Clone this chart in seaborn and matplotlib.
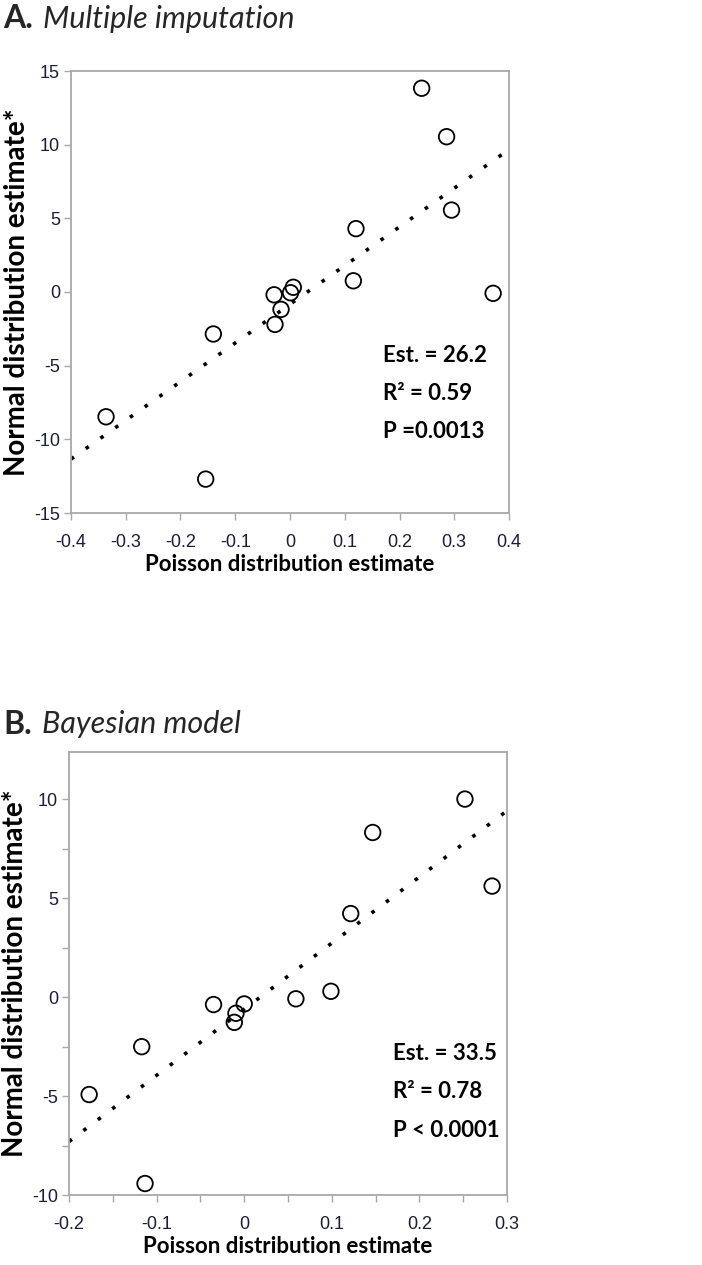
import numpy as np
import pandas as pd
import matplotlib
matplotlib.use("Agg")
import matplotlib.pyplot as plt
from matplotlib.ticker import MultipleLocator
import seaborn as sns

# ---- data ----
a_poisson = [0.2405, 0.286, 0.295, 0.1205, 0.1157, 0.371, -0.029, 0.006, 0.001,
             -0.0164, -0.0274, -0.14, -0.336, -0.154]
a_normal = [13.83, 10.54, 5.56, 4.30, 0.76, -0.09, -0.19, 0.32, -0.05,
            -1.18, -2.20, -2.85, -8.47, -12.70]

b_poisson = [0.252, 0.1467, 0.283, 0.1216, 0.099, 0.059, 0.000, -0.035,
             -0.0094, -0.0113, -0.117, -0.177, -0.1132]
b_normal = [10.02, 8.33, 5.62, 4.23, 0.30, -0.08, -0.34, -0.37,
            -0.81, -1.27, -2.50, -4.92, -9.42]

a_stats = ["Est. = 26.2", "R\u00b2 = 0.59", "P =0.0013"]
b_stats = ["Est. = 33.5", "R\u00b2 = 0.78", "P < 0.0001"]

a_xticks = [-0.4, -0.3, -0.2, -0.1, 0, 0.1, 0.2, 0.3, 0.4]
a_yticks = [-15, -10, -5, 0, 5, 10, 15]
b_xticks = [-0.2, -0.1, 0, 0.1, 0.2, 0.3]
b_yticks = [-10, -5, 0, 5, 10]

sns.set_theme(style="white")
plt.rcParams["font.family"] = ["Lato", "DejaVu Sans"]

W, H = 702, 1265
fig = plt.figure(figsize=(W / 100, H / 100), dpi=100)

TICKFONT = dict(family=["Liberation Sans", "DejaVu Sans"], size=13)
TICKCOL = "#1c1c3c"
SPINE = "#a8a8a8"


def fmt(v):
    return "0" if v == 0 else "%g" % v


def panel(rect, x, y, xlim, ylim, xticks, yticks, stats, stat_xy, minor=None):
    ax = fig.add_axes(rect)
    ax.set_xlim(*xlim)
    ax.set_ylim(*ylim)
    df = pd.DataFrame({"x": x, "y": y})
    sns.regplot(data=df, x="x", y="y", ax=ax, scatter=False, ci=None,
                truncate=False,
                line_kws=dict(color="black", lw=2.6, linestyle=(0, (1.0, 4.0)),
                              dash_capstyle="butt"))
    sns.scatterplot(data=df, x="x", y="y", ax=ax, marker="o", s=125,
                    facecolor="none", edgecolor="black", linewidth=1.3,
                    zorder=5)
    ax.set_xlim(*xlim)
    ax.set_ylim(*ylim)
    ax.set_xticks(xticks)
    ax.set_yticks(yticks)
    ax.set_xticklabels([fmt(v) for v in xticks], **TICKFONT, color=TICKCOL)
    ax.set_yticklabels([fmt(v) for v in yticks], **TICKFONT, color=TICKCOL)
    if minor:
        ax.xaxis.set_minor_locator(MultipleLocator(minor[0]))
        ax.yaxis.set_minor_locator(MultipleLocator(minor[1]))
    ax.tick_params(which="both", direction="out", length=5, width=1,
                   color=SPINE, left=True, bottom=True)
    ax.tick_params(axis="x", which="major", pad=10)
    ax.tick_params(axis="y", which="major", pad=3)
    for s in ax.spines.values():
        s.set_color(SPINE)
        s.set_linewidth(1.3)
        s.set_visible(True)
    ax.grid(False)
    ax.set_xlabel("Poisson distribution estimate", fontsize=16,
                  fontweight="bold", color="black", labelpad=2)
    ax.set_ylabel("Normal distribution estimate*", fontsize=20,
                  fontweight="bold", color="black")
    ax.yaxis.set_label_coords(-0.094, 0.5)
    for i, t in enumerate(stats):
        ax.text(stat_xy[0], stat_xy[1] - i * 0.087, t, transform=ax.transAxes,
                fontsize=16, fontweight="bold", color="black",
                ha="left", va="center")
    return ax


panel([71 / W, 1 - 513 / H, 438 / W, 442 / H], a_poisson, a_normal,
      (-0.4, 0.4), (-15, 15), a_xticks, a_yticks, a_stats,
      ((383 - 71) / 438, (513 - 355) / 442))

panel([69 / W, 1 - 1195 / H, 438 / W, 443 / H], b_poisson, b_normal,
      (-0.2, 0.3), (-10, 12.4), b_xticks, b_yticks, b_stats,
      ((393 - 69) / 438, (1195 - 1053) / 443), minor=(0.05, 2.5))

fig.text(3 / W, 1 - 19 / H, "A.", fontsize=23, fontweight="bold", va="center")
fig.text(43 / W, 1 - 19 / H, "Multiple imputation", fontsize=22,
         fontstyle="italic", va="center")
fig.text(3 / W, 1 - 724 / H, "B.", fontsize=23, fontweight="bold", va="center")
fig.text(42 / W, 1 - 724 / H, "Bayesian model", fontsize=22,
         fontstyle="italic", va="center")

fig.savefig("out.png", dpi=100, facecolor="white")
